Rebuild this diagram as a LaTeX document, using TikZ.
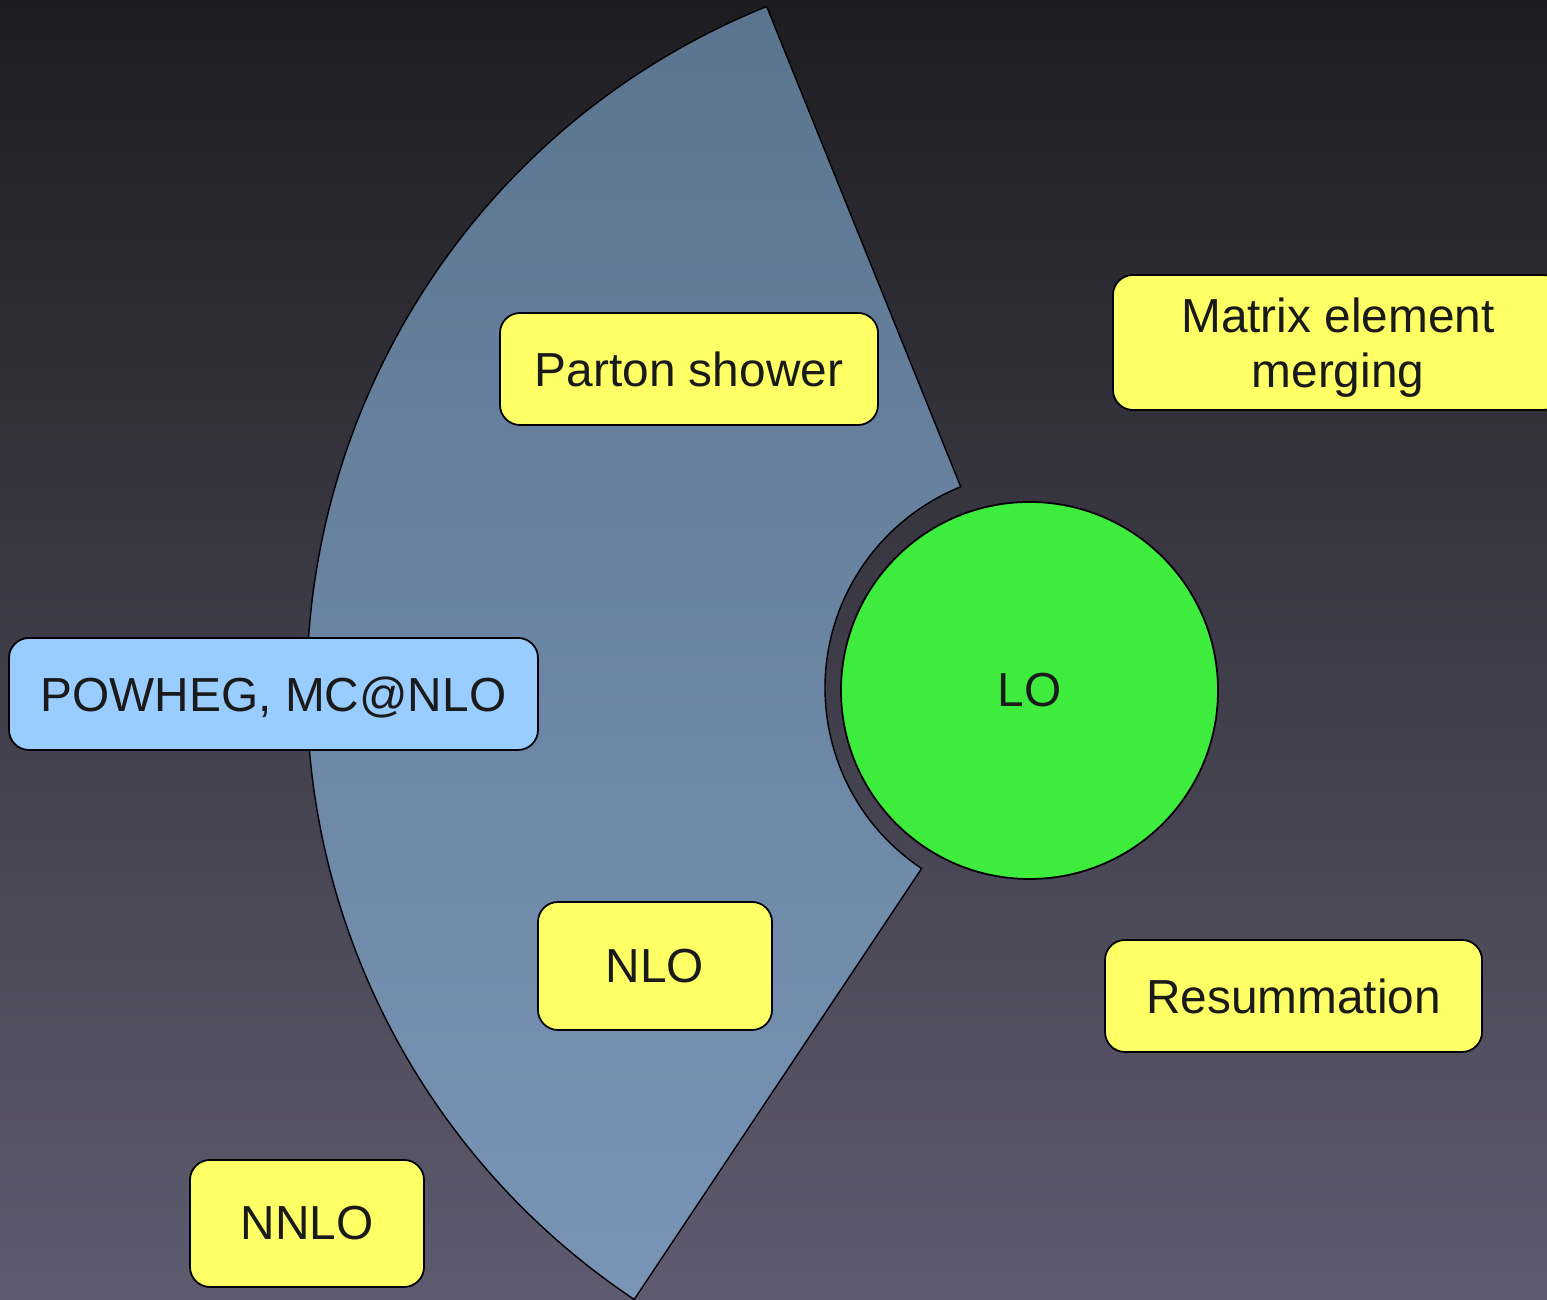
\documentclass[tikz,border=0pt]{standalone}
\usepackage{fontspec}
\setmainfont{Liberation Sans}
\usetikzlibrary{positioning}
\usetikzlibrary{calc}

\definecolor{bgtop}{HTML}{1D1D21}
\definecolor{bgbot}{HTML}{5F5B6F}
\definecolor{sectop}{HTML}{5B7590}
\definecolor{secbot}{HTML}{7A94B6}
\definecolor{boxyellow}{HTML}{FFFF66}
\definecolor{boxblue}{HTML}{99CCFF}
\definecolor{logreen}{HTML}{3DEC3D}
\definecolor{inkdark}{HTML}{1A1A1A}

\tikzset{
	method/.style={draw=black,line width=0.5pt,rounded corners=0.2cm,fill=boxyellow,
		text=inkdark,inner sep=0pt,align=center,font=\fontsize{13.6}{15.6}\selectfont},
}

\begin{document}
\begin{tikzpicture}
		\useasboundingbox (0,0) rectangle (15.47,13);
		\shade[top color=bgtop,bottom color=bgbot] (0,0) rectangle (15.47,13);
		
		% the shower sector round the LO circle
		\coordinate (c) at (10.42,6.12);
		\shadedraw[top color=sectop,bottom color=secbot,draw=black,line width=0.4pt]
			($(c)+(112:7.35)$) arc[start angle=112,end angle=236.3,radius=7.35]
			-- ($(c)+(236.3:2.17)$) arc[start angle=236.3,end angle=112,radius=2.17] -- cycle;
		
		\node[circle,draw=black,line width=0.5pt,fill=logreen,minimum size=3.77cm,inner sep=0pt,
			text=inkdark,font=\fontsize{13.6}{15.6}\selectfont] (lo) at (10.295,6.095) {LO};
		
		\node[method,minimum width=3.78cm,minimum height=1.12cm] (ps) at (6.89,9.31) {Parton shower};
		\node[method,text depth=0pt,minimum width=4.5cm,minimum height=1.35cm] (meme) at (13.38,9.575) {Matrix element\\merging};
		\node[method,text depth=0pt,fill=boxblue,minimum width=5.29cm,minimum height=1.12cm] (powheg) at (2.735,6.06) {POWHEG, MC@NLO};
		\node[method,minimum width=2.34cm,minimum height=1.28cm] (nlo) at (6.55,3.34) {NLO};
		\node[method,minimum width=3.77cm,minimum height=1.12cm] (resum) at (12.935,3.04) {Resummation};
		\node[method,minimum width=2.34cm,minimum height=1.27cm] (nnlo) at (3.07,0.765) {NNLO};
	\end{tikzpicture}
\end{document}
